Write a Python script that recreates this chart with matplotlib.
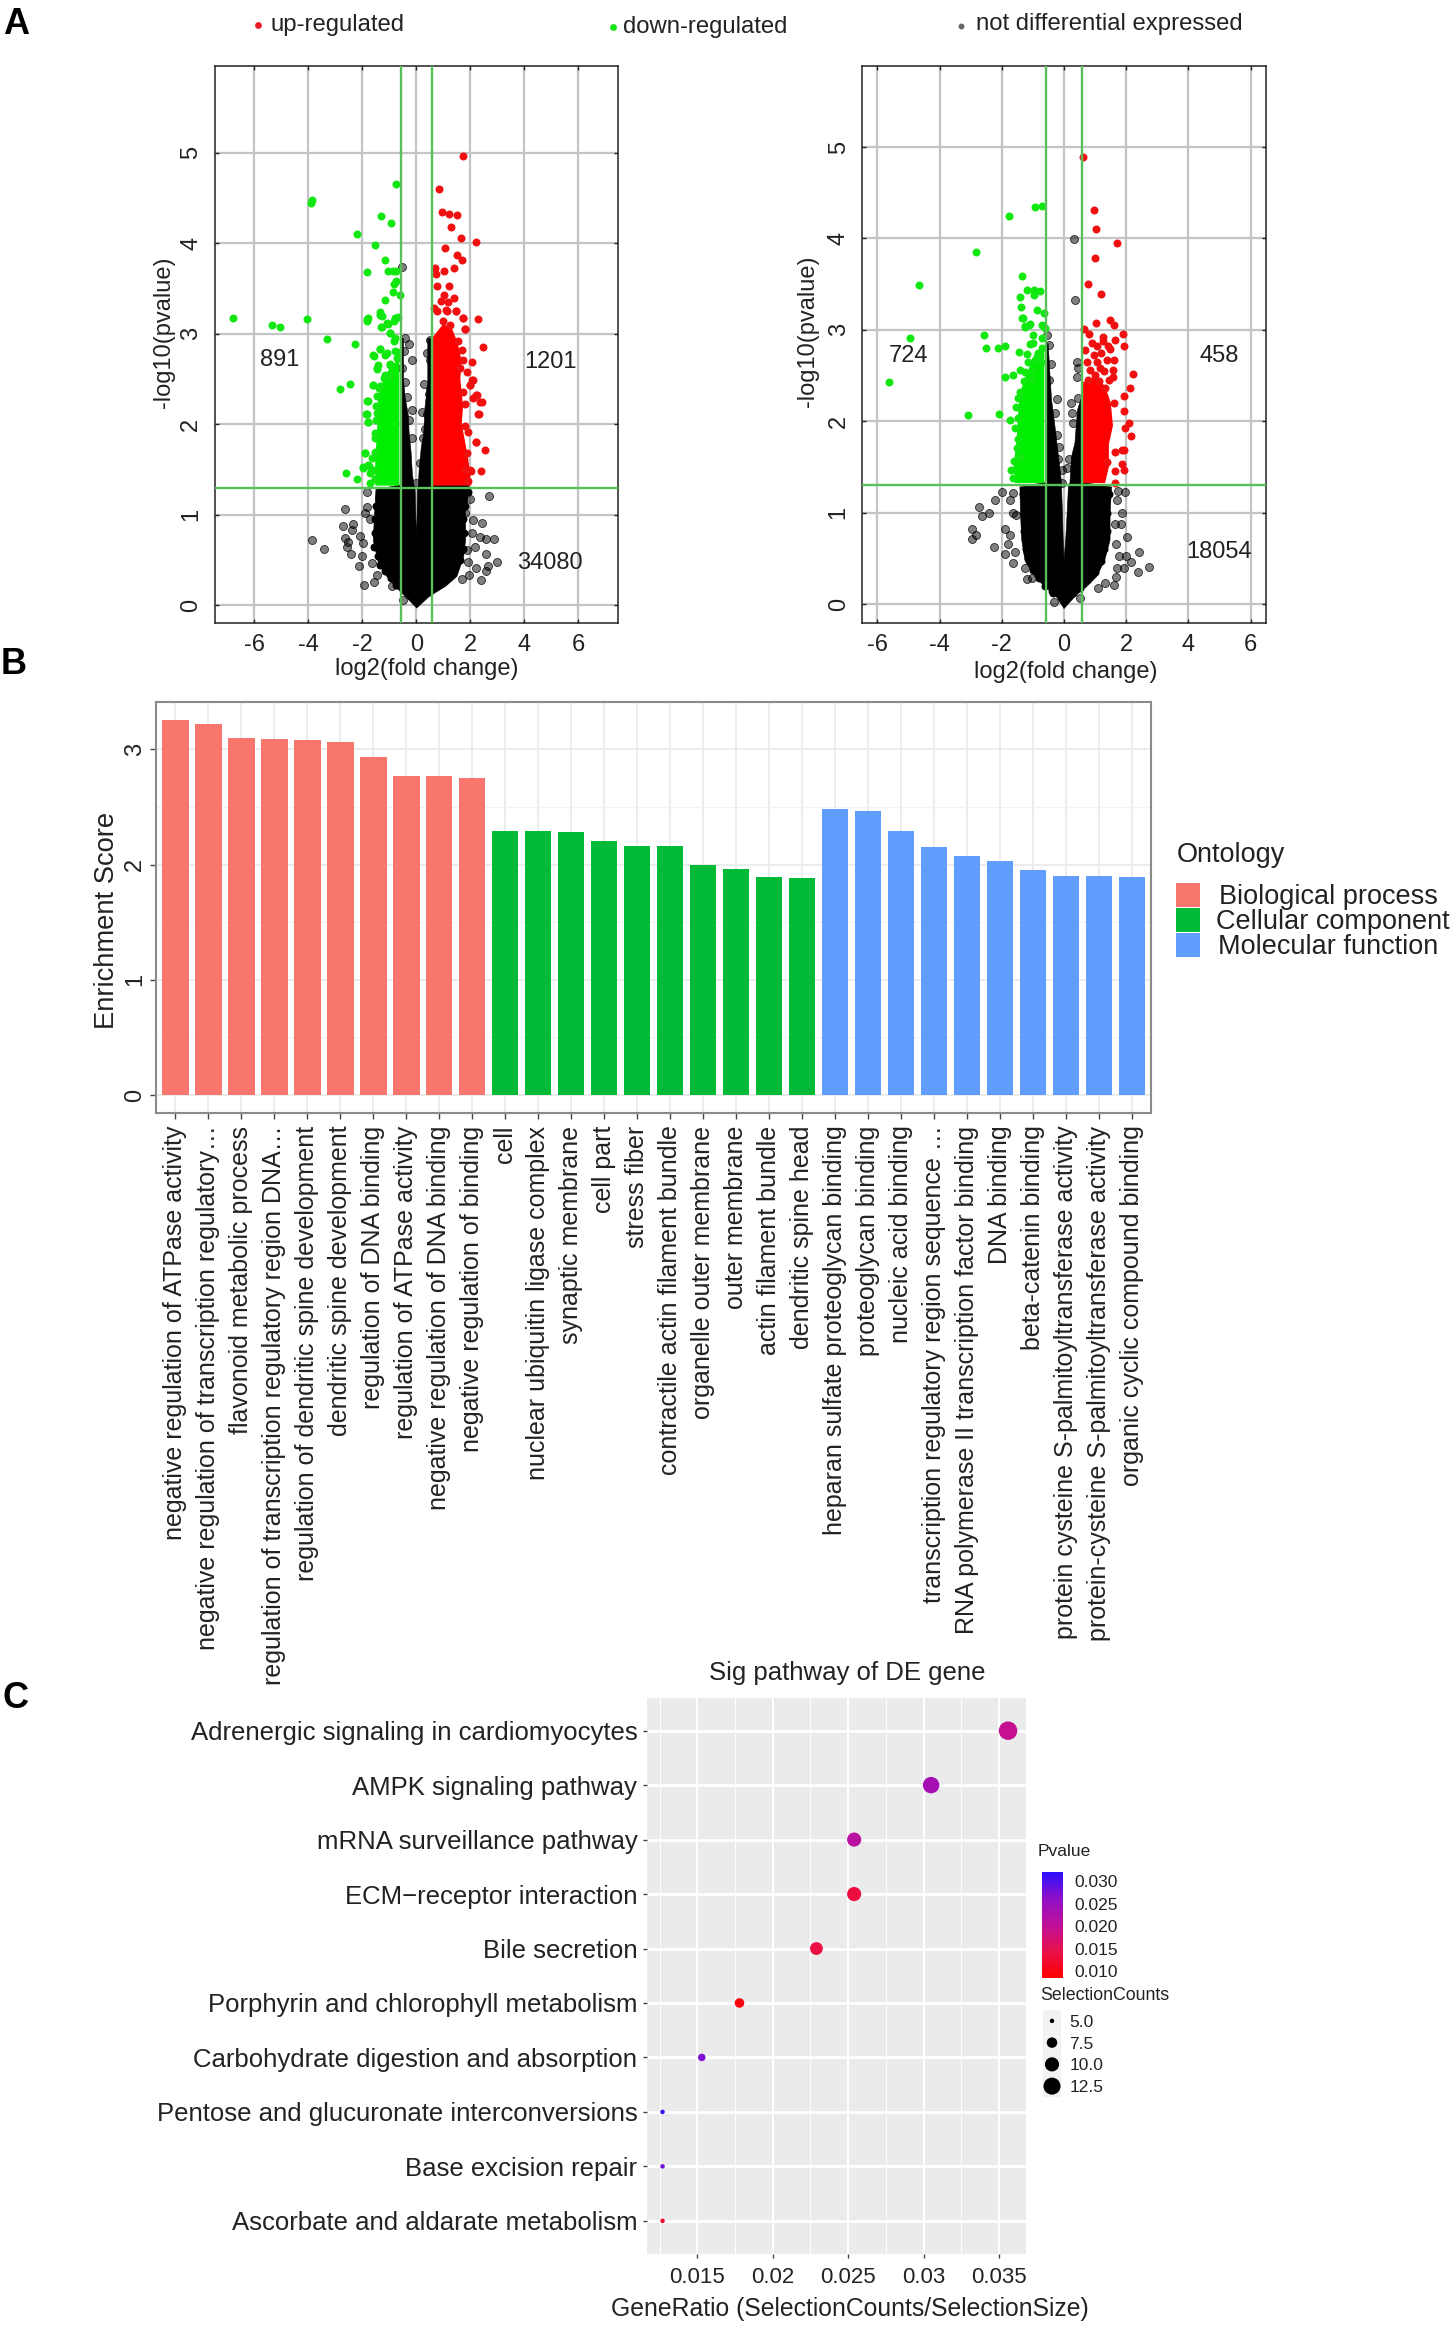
import numpy as np
import matplotlib
matplotlib.use('Agg')
import matplotlib.pyplot as plt
from matplotlib.colors import LinearSegmentedColormap, Normalize
from matplotlib.cm import ScalarMappable
from matplotlib.patches import Rectangle
from matplotlib.ticker import MultipleLocator

plt.rcParams['font.family'] = ['Liberation Sans', 'DejaVu Sans']
plt.rcParams['axes.unicode_minus'] = False

# ---------- Panel A, left volcano: points ----------
a1_green_x = [-6.81,-5.36,-5.07,-4.07,-3.87,-3.90,-3.32,-2.27,-2.22,-1.32,-0.96,-0.77,-1.53,-1.17,-1.82,-1.05,-0.88,-0.77,-0.77,-0.84,-0.86,-0.60,-1.15,-1.36,-1.29,-1.81,-1.84,-0.70,-0.84,-1.32,-1.07,-0.98,-0.81,-1.36,-1.58,-1.15,-0.72,-1.46,-0.98,-2.46,-2.82,-1.62,-1.81,-1.84,-1.79,-2.61,-2.20,-1.89,-1.99,-1.75,
              -1.84,-1.35,-1.29,-1.10,-0.79,-0.98,-0.85,-1.60,-1.35,-1.10,-0.79,-0.73,-1.41,-1.47,-0.98,-1.62,-1.35,-1.84,-1.47,-1.87,-1.47,-1.80,-1.53,-1.90,-1.66,-1.78,-1.99,-1.72,-1.72,-1.22,-0.98,
              -1.55,-1.58,-1.52,-1.55,-1.50,-1.50,-1.38,-1.15]
a1_green_y = [3.18,3.10,3.08,3.16,4.48,4.45,2.94,2.89,4.10,4.30,4.22,4.66,3.98,3.82,3.68,3.70,3.70,3.69,3.58,3.55,3.46,3.43,3.37,3.24,3.20,3.18,3.14,3.19,3.14,3.08,3.11,3.01,2.95,2.83,2.76,2.77,2.80,2.62,2.67,2.45,2.39,2.44,2.26,2.11,2.03,1.46,1.40,1.68,1.52,1.54,
              3.16,3.21,3.08,3.12,3.17,3.01,2.92,2.77,2.83,2.79,2.81,2.73,2.66,2.61,2.66,2.44,2.42,2.26,2.31,2.12,2.13,2.03,1.90,1.68,1.63,1.55,1.53,1.46,1.35,2.51,2.53,
              1.40,1.50,1.70,1.85,2.05,2.20,2.40,2.55]
a1_green_core_x = [-0.66,-1.5,-1.5,-1.42,-1.4,-1.2,-0.9,-0.66]
a1_green_core_y = [1.33,1.33,1.6,2.0,2.3,2.5,2.65,2.7]
a1_red_x = [1.74,0.84,0.93,1.20,1.50,1.29,1.65,2.22,1.07,1.51,1.68,1.39,0.70,0.74,1.03,0.76,1.20,1.03,1.39,0.91,1.17,0.65,1.08,1.48,1.72,2.29,1.81,2.46,2.05,2.06,1.98,2.37,2.20,2.30,2.22,2.53,2.39,2.03,
            0.75,1.12,1.47,1.74,1.0,1.80,1.24,1.55,1.68,1.74,1.61,1.86,2.11,1.99,1.74,2.23,2.42,2.11,1.80,2.29,1.80,1.92,2.19,1.86,1.99,1.80,1.92]
a1_red_y = [4.96,4.60,4.35,4.33,4.31,4.18,4.06,4.02,3.95,3.87,3.82,3.73,3.73,3.66,3.70,3.53,3.53,3.43,3.40,3.36,3.35,3.29,3.26,3.25,3.18,3.16,3.05,2.85,2.69,2.49,2.43,2.25,2.32,2.12,1.80,1.72,1.48,1.49,
            3.25,3.25,3.25,3.18,3.14,3.05,3.10,2.92,2.82,2.71,2.62,2.58,2.49,2.44,2.36,2.32,2.25,2.29,2.22,2.12,1.98,1.92,1.80,1.68,1.50,1.50,1.37]
a1_red_core_x = [0.6,2.0,1.9,1.75,1.65,1.7,1.6,1.65,1.5,1.3,1.0,0.6]
a1_red_core_y = [1.33,1.33,1.6,1.85,2.0,2.2,2.5,2.7,2.9,3.05,3.1,2.95]
a1_gray_x = [-3.87,-3.44,-0.55,
             -1.84,-2.64,-1.90,-1.84,-1.72,-2.73,-2.36,-2.39,-2.09,-2.64,-2.52,-2.58,-2.43,-1.97,-2.03,-2.11,-1.66,-1.47,-1.94,-1.57,-0.92,2.69,2.11,2.44,2.05,2.36,2.57,2.89,2.17,2.57,3.0,2.64,2.57,2.21,1.92,1.96,2.38,1.68,1.8,1.99,1.89,-0.48,
             -0.42,-0.26,-0.46,-0.18,-0.55,-0.42,-0.34,-0.18,-0.26,-0.18,0.50,0.38,0.50,0.29,0.50,0.20,0.38,0.32,0.26,0.13,-0.01,0.48]
a1_gray_y = [0.72,0.62,3.74,
             1.25,1.07,1.02,1.09,0.95,0.88,0.90,0.83,0.77,0.74,0.70,0.65,0.57,0.69,0.54,0.43,0.47,0.34,0.22,0.26,0.21,1.21,0.94,0.91,0.80,0.76,0.73,0.73,0.64,0.57,0.48,0.44,0.38,0.41,0.48,0.34,0.28,0.29,1.02,1.17,0.61,0.06,
             2.95,2.89,2.81,2.71,2.62,2.47,2.30,2.16,2.05,1.85,2.93,2.79,2.71,2.45,2.39,2.14,2.12,1.95,1.85,1.57,1.35,2.33]
a1_edge_x = [-1.40,-1.50,-1.55,-1.55,-1.58,-1.42,-1.35,-1.15,-0.95,-0.75,-0.5,1.9,1.8,1.73,1.75,1.72,1.6,1.4,1.2,0.95,0.7,0.45]
a1_edge_y = [1.2,1.1,0.95,0.8,0.65,0.55,0.45,0.38,0.30,0.23,0.18,1.25,1.1,0.95,0.8,0.62,0.5,0.4,0.33,0.26,0.2,0.15]
a1_black_core_x = [0.01,-0.42,-0.79,-1.10,-1.41,-1.6,-1.55,-1.5,-0.6,-0.6,-0.48,-0.48,-0.42,-0.3,-0.27,-0.2,-0.15,-0.09,-0.05,-0.02,0.0,0.02,0.03,0.07,0.1,0.18,0.27,0.32,0.42,0.42,0.6,0.6,1.95,1.9,1.82,1.82,1.75,1.5,1.08,0.48]
a1_black_core_y = [-0.03,0.1,0.21,0.32,0.47,0.72,1.02,1.28,1.33,2.95,2.95,2.5,2.3,2.1,1.9,1.7,1.45,1.33,1.28,0.95,0.72,0.95,1.28,1.33,1.5,1.75,1.9,2.2,2.45,2.95,2.95,1.33,1.33,1.17,1.02,0.72,0.54,0.32,0.21,0.1]

# ---------- Panel A, right volcano ----------
a2_green_x = [-5.64,-4.94,-4.66,-2.82,-1.78,-0.94,-0.70,-1.36,-3.10,-2.09,-2.58,-2.52,-1.19,-0.96,-0.78,-1.43,-0.96,-1.39,-0.88,-0.63,-1.33,-1.25,-1.10,-0.61,
              -1.34,-1.26,-1.12,-0.72,-0.99,-0.72,-1.10,-2.12,-1.90,-1.44,-1.20,-0.72,-0.77,-1.15,-0.94,-1.42,-1.63,-1.90,-1.26,-1.28,-0.99,-1.42,-1.47,-1.55,-1.74,-1.47,-1.58,-1.47,-1.50,-1.61,-1.69,-1.65,-1.42,-1.0,-0.85,-0.75,-1.05]
a2_green_y = [2.43,2.91,3.49,3.85,4.25,4.34,4.35,3.59,2.07,2.08,2.94,2.80,3.44,3.44,3.42,3.36,3.38,3.25,3.22,3.18,3.13,3.04,3.06,3.02,
              3.13,3.03,3.05,3.05,2.94,2.91,2.84,2.80,2.82,2.76,2.74,2.80,2.71,2.65,2.67,2.56,2.51,2.48,2.54,2.44,2.56,2.32,2.25,2.16,2.01,2.04,1.92,1.81,1.71,1.56,1.47,1.38,1.61,2.85,2.75,2.65,2.45]
a2_green_core_x = [-0.66,-1.55,-1.6,-1.5,-1.45,-1.4,-1.2,-0.9,-0.66]
a2_green_core_y = [1.33,1.33,1.5,1.8,2.1,2.3,2.5,2.75,2.8]
a2_red_x = [0.61,0.97,1.03,1.70,0.99,0.76,1.18,1.03,1.48,1.60,0.64,0.81,1.90,1.26,1.64,1.93,0.89,1.05,1.48,1.60,1.37,1.05,2.23,1.56,1.58,1.45,1.12,0.83,0.99,2.13,1.94,1.60,1.94,2.09,1.96,2.14,1.85,1.94,1.64,1.87,1.93,1.64,1.37,1.64,0.78,1.31,0.67,1.20,1.30,0.95,0.75,1.15,1.40,1.25]
a2_red_y = [4.89,4.31,4.10,3.95,3.79,3.50,3.39,3.07,3.11,3.05,3.01,2.95,2.95,2.92,2.89,2.82,2.85,2.82,2.79,2.67,2.67,2.65,2.52,2.56,2.48,2.45,2.44,2.56,2.51,2.36,2.28,2.20,2.11,1.98,1.93,1.84,1.69,1.69,1.66,1.53,1.47,1.45,1.55,1.32,2.45,2.36,2.78,2.75,2.55,2.72,2.65,2.58,2.82,2.88]
a2_red_core_x = [0.62,1.3,1.42,1.42,1.55,1.48,1.3,1.0,0.62]
a2_red_core_y = [1.33,1.33,1.5,1.75,1.95,2.2,2.38,2.48,2.42]
a2_gray_x = [0.31,0.34,-2.00,-2.22,-1.73,-2.75,-2.40,-2.64,-2.97,-2.82,-2.96,-2.25,
             -1.63,-1.63,-1.53,-1.90,-1.74,-1.79,-1.90,-1.58,-1.65,-1.26,-1.20,-1.04,1.74,1.96,1.69,1.85,1.64,1.82,2.03,1.67,1.78,1.99,2.40,2.15,2.73,2.39,1.94,1.71,1.67,1.60,1.31,1.10,-0.33,0.51,
             0.43,0.46,0.43,0.46,0.21,0.27,0.30,0.17,0.10,-0.48,-0.56,-0.43,-0.48,-0.24,-0.29,-0.24,-0.15,-0.19,-0.08,-0.05]
a2_gray_y = [3.99,3.33,1.23,1.14,1.14,1.06,1.00,0.96,0.82,0.76,0.71,0.62,
             1.21,0.99,0.97,0.82,0.76,0.66,0.55,0.57,0.45,0.39,0.27,0.28,1.24,1.22,1.14,0.99,0.88,0.88,0.73,0.66,0.53,0.53,0.57,0.46,0.40,0.35,0.39,0.39,0.29,0.21,0.23,0.18,0.02,0.07,
             2.65,2.58,2.48,2.25,2.20,2.09,1.98,1.59,1.49,2.83,2.94,2.63,2.45,2.24,2.09,1.85,1.72,1.59,1.47,1.32]
a2_edge_x = [-1.32,-1.30,-1.28,-1.22,-1.12,-1.0,-0.82,-0.60,-0.4,1.43,1.38,1.38,1.3,1.2,1.0,0.75,0.5,0.3,-0.35]
a2_edge_y = [1.2,1.0,0.8,0.6,0.47,0.37,0.28,0.2,0.14,1.2,1.0,0.8,0.6,0.47,0.35,0.26,0.18,0.12,0.12]
a2_black_core_x = [0.0,-0.29,-0.62,-0.94,-1.26,-1.36,-1.40,-1.42,-0.6,-0.58,-0.51,-0.45,-0.40,-0.29,-0.19,-0.08,-0.08,-0.05,-0.03,0.0,0.06,0.10,0.14,0.19,0.24,0.35,0.43,0.6,0.6,1.53,1.48,1.48,1.31,1.05,0.73,0.40]
a2_black_core_y = [-0.05,0.10,0.19,0.30,0.48,0.70,0.99,1.28,1.33,2.85,2.85,2.49,2.23,1.94,1.65,1.33,1.28,0.99,0.74,0.48,0.74,0.99,1.28,1.33,1.61,1.76,2.12,2.3,1.33,1.28,0.99,0.70,0.48,0.30,0.19,0.10]

a_thresh_x = [-0.58, 0.58]
a_thresh_y = 1.3
a1_counts = ['891', '1201', '34080']
a1_count_x = [-5.05, 4.97, 4.95]
a1_count_y = [2.71, 2.69, 0.47]
a2_counts = ['724', '458', '18054']
a2_count_x = [-5.01, 4.99, 4.99]
a2_count_y = [2.71, 2.71, 0.57]

# ---------- Panel B ----------
go_terms = ['negative regulation of ATPase activity','negative regulation of transcription regulatory…','flavonoid metabolic process','regulation of transcription regulatory region DNA…','regulation of dendritic spine development','dendritic spine development','regulation of DNA binding','regulation of ATPase activity','negative regulation of DNA binding','negative regulation of binding',
            'cell','nuclear ubiquitin ligase complex','synaptic membrane','cell part','stress fiber','contractile actin filament bundle','organelle outer membrane','outer membrane','actin filament bundle','dendritic spine head',
            'heparan sulfate proteoglycan binding','proteoglycan binding','nucleic acid binding','transcription regulatory region sequence …','RNA polymerase II transcription factor binding','DNA binding','beta-catenin binding','protein cysteine S-palmitoyltransferase activity','protein-cysteine S-palmitoyltransferase activity','organic cyclic compound binding']
go_scores = [3.25,3.22,3.10,3.09,3.08,3.06,2.93,2.77,2.77,2.75,
             2.29,2.29,2.28,2.20,2.16,2.16,2.00,1.96,1.89,1.88,
             2.48,2.46,2.29,2.15,2.07,2.03,1.95,1.90,1.90,1.89]
go_group = [0]*10 + [1]*10 + [2]*10
go_names = ['Biological process', 'Cellular component', 'Molecular function']
go_colors = ['#F8766D', '#00BA38', '#619CFF']

# ---------- Panel C ----------
pathways = ['Ascorbate and aldarate metabolism','Base excision repair','Pentose and glucuronate interconversions','Carbohydrate digestion and absorption','Porphyrin and chlorophyll metabolism','Bile secretion','ECM−receptor interaction','mRNA surveillance pathway','AMPK signaling pathway','Adrenergic signaling in cardiomyocytes']
gene_ratio = [0.0127,0.0127,0.0127,0.0153,0.0178,0.0229,0.0254,0.0254,0.0305,0.0356]
sel_counts = [5,5,5,6,7,9,10,10,12,14]
pvalues = [0.012,0.028,0.031,0.027,0.0095,0.014,0.0135,0.021,0.0235,0.0195]
size_legend = [5.0, 7.5, 10.0, 12.5]
p_ticks = [0.010, 0.015, 0.020, 0.025, 0.030]

W, H = 1456, 2327
fig = plt.figure(figsize=(W/100, H/100), dpi=100, facecolor='white')

def axpx(l, t, r, b, **kw):
    return fig.add_axes([l/W, 1-b/H, (r-l)/W, (b-t)/H], **kw)

ov = fig.add_axes([0, 0, 1, 1], zorder=10)
ov.set_xlim(0, W); ov.set_ylim(H, 0); ov.axis('off'); ov.patch.set_alpha(0)

GL = '#58c058'
DOT = 33
def volcano(pos, xlim, ylim, g, gc, r, rc, k, kc, ke, counts, tickfs=17):
    ax = axpx(*pos)
    ax.set_xlim(*xlim); ax.set_ylim(*ylim)
    ax.set_xticks(range(-6, 7, 2)); ax.set_yticks(range(0, 6))
    ax.grid(True, color='#c4c4c4', lw=1.6); ax.set_axisbelow(True)
    ax.fill(kc[0], kc[1], color='black', lw=0.4, zorder=2)
    ax.scatter(ke[0], ke[1], s=DOT, color='black', lw=0, zorder=2.1)
    ax.scatter(k[0], k[1], s=DOT, color=(0, 0, 0, 0.5), edgecolors=(0, 0, 0, 0.8), lw=0.6, zorder=2.2)
    ax.fill(gc[0], gc[1], color='#00ee00', lw=1, zorder=3)
    ax.scatter(g[0], g[1], s=DOT, color='#10e810', lw=0, zorder=3.2)
    ax.fill(rc[0], rc[1], color='#fe0000', lw=1, zorder=3)
    ax.scatter(r[0], r[1], s=DOT, color='#f01010', lw=0, zorder=3.2)
    for v in a_thresh_x:
        ax.axvline(v, color=GL, lw=1.7, zorder=5)
    ax.axhline(a_thresh_y, color=GL, lw=1.7, zorder=5)
    ax.tick_params(direction='in', length=3, width=1, labelsize=tickfs, pad=8, top=True, right=True, colors='#222222')
    ax.tick_params(axis='y', pad=9)
    plt.setp(ax.get_yticklabels(), rotation=90, va='center')
    for s in ax.spines.values():
        s.set_linewidth(1.1); s.set_color('#222222')
    for t, x, y in zip(*counts):
        ax.text(x, y, t, fontsize=17, ha='center', va='center', color='#222222', zorder=6)
    return ax

volcano((214.5, 66, 618.4, 623), (-7.48, 7.48), (-0.195, 5.96),
        (a1_green_x, a1_green_y), (a1_green_core_x, a1_green_core_y),
        (a1_red_x, a1_red_y), (a1_red_core_x, a1_red_core_y),
        (a1_gray_x, a1_gray_y), (a1_black_core_x, a1_black_core_y), (a1_edge_x, a1_edge_y),
        (a1_counts, a1_count_x, a1_count_y))
volcano((862.2, 66, 1266.5, 622.7), (-6.49, 6.51), (-0.205, 5.886),
        (a2_green_x, a2_green_y), (a2_green_core_x, a2_green_core_y),
        (a2_red_x, a2_red_y), (a2_red_core_x, a2_red_core_y),
        (a2_gray_x, a2_gray_y), (a2_black_core_x, a2_black_core_y), (a2_edge_x, a2_edge_y),
        (a2_counts, a2_count_x, a2_count_y))

TXT = '#222222'
ov.text(427, 669, 'log2(fold change)', fontsize=17, ha='center', va='center', color=TXT)
ov.text(1066, 672, 'log2(fold change)', fontsize=17, ha='center', va='center', color=TXT)
ov.text(164, 332, '-log10(pvalue)', fontsize=17, rotation=90, ha='center', va='center', color=TXT)
ov.text(808, 331, '-log10(pvalue)', fontsize=17, rotation=90, ha='center', va='center', color=TXT)

# top legend
ov.scatter([258], [25], s=24, color='#ee1c25', lw=0)
ov.text(270, 25, 'up-regulated', fontsize=17.2, va='center', color=TXT)
ov.scatter([613], [27], s=24, color='#14e614', lw=0)
ov.text(623, 27, 'down-regulated', fontsize=17.2, va='center', color=TXT)
ov.scatter([961], [26], s=18, color='#666666', lw=0)
ov.text(976, 24, 'not differential expressed', fontsize=17.2, va='center', color=TXT)

ov.text(3, 25, 'A', fontsize=26, fontweight='bold', va='center', color='black')
ov.text(1, 665, 'B', fontsize=26, fontweight='bold', va='center', color='black')
ov.text(3, 1698, 'C', fontsize=26, fontweight='bold', va='center', color='black')

# Panel B
axb = axpx(156, 702, 1151, 1113)
xb = np.arange(len(go_scores))
axb.bar(xb, go_scores, width=0.8, color=[go_colors[g] for g in go_group], zorder=3)
axb.set_xlim(-0.59, 29.58); axb.set_ylim(-0.156, 3.41)
axb.set_xticks(xb); axb.set_xticklabels(go_terms, rotation=90, ha='center', va='top', fontsize=18, color='#222222')
axb.set_yticks([0, 1, 2, 3])
axb.yaxis.set_minor_locator(MultipleLocator(0.5))
axb.grid(True, which='major', color='#ebebeb', lw=1.3)
axb.grid(True, which='minor', axis='y', color='#f2f2f2', lw=0.8)
axb.set_axisbelow(True)
axb.tick_params(axis='x', length=4, width=1, color='#444444', pad=5)
axb.tick_params(axis='y', length=4, width=1, color='#444444', labelsize=17, pad=3)
axb.tick_params(axis='y', which='minor', length=0)
plt.setp(axb.get_yticklabels(), rotation=90, va='center', color='#222222')
for s in axb.spines.values():
    s.set_color('#8a8a8a'); s.set_linewidth(1.5)
ov.text(107, 920, 'Enrichment Score', fontsize=19.7, rotation=90, ha='center', va='center', color=TXT)
ov.text(1177, 855, 'Ontology', fontsize=19.5, va='center', color=TXT)
for name, col, top, lab_x in zip(go_names, go_colors, [883, 908, 933], [1219, 1216, 1218]):
    ov.add_patch(Rectangle((1176, top), 24, 24, color=col, lw=0))
    ov.text(lab_x, top+14, name, fontsize=19.5, va='center', color=TXT)

# Panel C
cm = LinearSegmentedColormap.from_list('rb', ['#ff0000', '#e8104a', '#c0109a', '#9010c8', '#2a10ff'])
norm = Normalize(0.0085, 0.032)
def psize(c):
    return 10.4 + (np.asarray(c, float) - 5) * 18.6

axc = axpx(647, 1698, 1026, 2253.5)
axc.set_facecolor('#ebebeb')
yc = np.arange(len(pathways))
axc.scatter(gene_ratio, yc, s=psize(sel_counts), c=pvalues, cmap=cm, norm=norm, lw=0, zorder=3)
axc.set_xlim(0.01167, 0.03679); axc.set_ylim(-0.6, 9.6)
axc.set_xticks([0.015, 0.02, 0.025, 0.03, 0.035])
axc.set_xticklabels(['0.015', '0.02', '0.025', '0.03', '0.035'], fontsize=16, color='#222222')
axc.xaxis.set_minor_locator(MultipleLocator(0.0025))
axc.set_yticks(yc); axc.set_yticklabels(pathways, fontsize=18.5, color='#222222')
axc.grid(True, which='major', axis='y', color='white', lw=2)
axc.grid(True, which='major', axis='x', color='white', lw=1.5)
axc.grid(True, which='minor', axis='x', color='white', lw=0.7)
axc.set_axisbelow(True)
axc.tick_params(axis='both', which='major', length=3, width=1, color='#444444')
axc.tick_params(axis='x', which='minor', length=0)
axc.tick_params(axis='y', pad=4)
axc.tick_params(axis='x', pad=7)
for s in axc.spines.values():
    s.set_visible(False)
ov.text(847, 1673, 'Sig pathway of DE gene', fontsize=18.5, ha='center', va='center', color=TXT)
ov.text(850, 2309, 'GeneRatio (SelectionCounts/SelectionSize)', fontsize=17.8, ha='center', va='center', color=TXT)

ov.text(1038, 1852, 'Pvalue', fontsize=12.5, va='center', color=TXT)
cax = axpx(1042, 1872, 1063, 1978)
cb = fig.colorbar(ScalarMappable(norm=norm, cmap=cm), cax=cax, ticks=p_ticks)
cb.outline.set_visible(False)
cb.ax.tick_params(length=0, labelsize=12.5, pad=8, labelcolor='#222222')
cb.ax.set_yticklabels(['%.3f' % v for v in p_ticks])

ov.text(1040, 1995, 'SelectionCounts', fontsize=12.8, va='center', color=TXT)
kax = axpx(1043, 2010, 1061, 2097)
kax.set_facecolor('#f2f2f2')
ky = np.arange(len(size_legend))[::-1]
kax.scatter([0]*len(size_legend), ky, s=psize(size_legend), color='black', lw=0)
kax.set_xlim(-1, 1); kax.set_ylim(-0.5, 3.5)
kax.set_xticks([])
kax.yaxis.tick_right()
kax.set_yticks(ky); kax.set_yticklabels(['%.1f' % v for v in size_legend], fontsize=12.5, color='#222222')
kax.tick_params(axis='y', length=0, pad=6)
for s in kax.spines.values():
    s.set_visible(False)

fig.savefig('out.png', dpi=100, facecolor='white')
